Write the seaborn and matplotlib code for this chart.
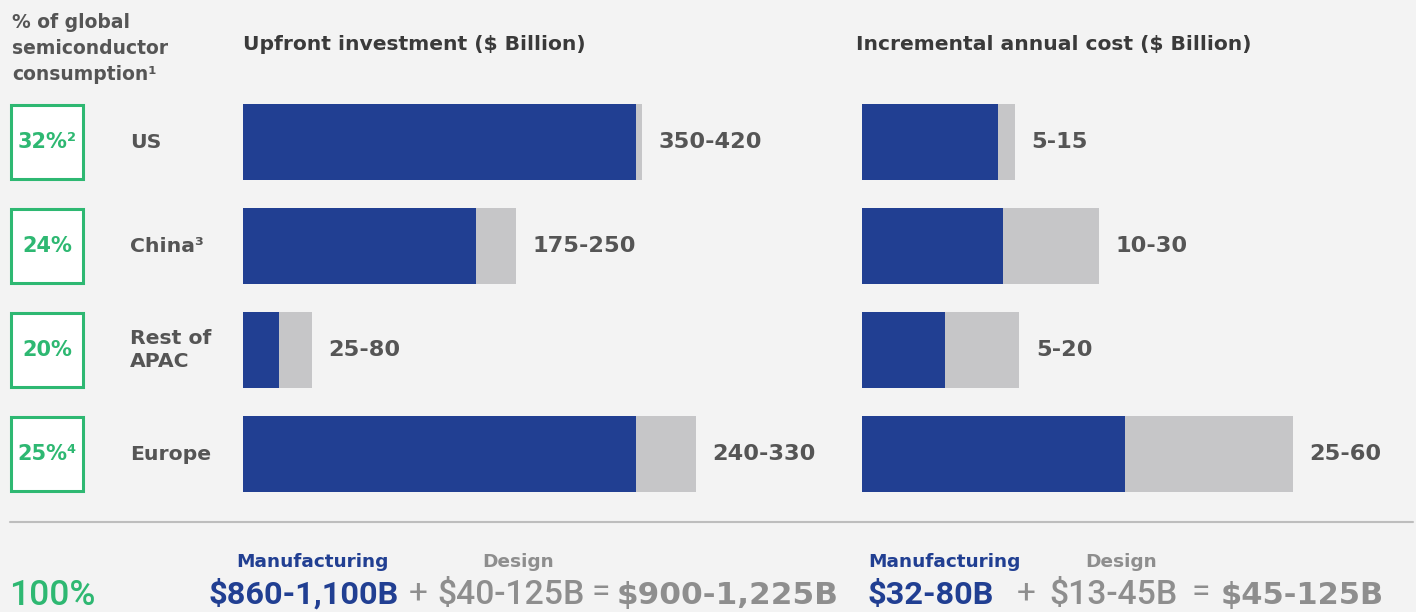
import matplotlib
matplotlib.use("Agg")
import matplotlib.pyplot as plt
from matplotlib.patches import Rectangle
import seaborn as sns

# --- data ---
regions = ["US", "China³", "Rest of\nAPAC", "Europe"]
consumption_share = ["32%²", "24%", "20%", "25%⁴"]

upfront_manufacturing = [350, 207, 32, 350]
upfront_design = [5, 36, 29, 53]
upfront_labels = ["350-420", "175-250", "25-80", "240-330"]

annual_manufacturing = [18.9, 19.6, 11.6, 36.6]
annual_design = [2.4, 13.4, 10.3, 23.4]
annual_labels = ["5-15", "10-30", "5-20", "25-60"]

total_share = "100%"
upfront_totals = ["$860-1,100B", "$40-125B", "$900-1,225B"]
annual_totals = ["$32-80B", "$13-45B", "$45-125B"]

# --- style ---
BG = "#f3f3f3"
BLUE = "#213f92"
LIGHT = "#c6c6c8"
GREEN = "#2eb872"
TXT = "#555555"
DARK = "#3a3a3a"
SUM_GRAY = "#8e8e8e"

W, H = 1416, 612
sns.set_style("white", {"axes.facecolor": BG, "figure.facecolor": BG})
plt.rcParams["font.family"] = ["DejaVu Sans"]

fig = plt.figure(figsize=(W / 100, H / 100), dpi=100)

# rows: bars occupy y 104..492 px, one row every 104 px
bottom = 1 - 506 / H
height = 416 / H


def px_axes(x0, x1):
    ax = fig.add_axes([x0 / W, bottom, (x1 - x0) / W, height])
    ax.set_facecolor("none")
    return ax


def ftext(x, y, s, **kw):
    fig.text(x / W, 1 - y / H, s, va="baseline", **kw)


def stacked(ax, manuf, design, labels, xmax):
    total = [m + d for m, d in zip(manuf, design)]
    sns.barplot(x=total, y=regions, color=LIGHT, width=0.73, saturation=1,
                linewidth=0, ax=ax, orient="h")
    sns.barplot(x=manuf, y=regions, color=BLUE, width=0.73, saturation=1,
                linewidth=0, ax=ax, orient="h")
    for i, (t, lab) in enumerate(zip(total, labels)):
        ax.annotate(lab, xy=(t, i), xytext=(12, 0), textcoords="offset points",
                    va="center", ha="left", fontsize=16.2, fontweight="bold",
                    color=TXT)
    ax.set_xlim(0, xmax)
    ax.set_ylim(len(regions) - 0.5, -0.5)
    ax.axis("off")


# left column: consumption boxes and region names
ax_lab = px_axes(0, 240)
ax_lab.set_xlim(0, 240)
ax_lab.set_ylim(len(regions) - 0.5, -0.5)
ax_lab.axis("off")
for i, (reg, share) in enumerate(zip(regions, consumption_share)):
    ax_lab.add_patch(Rectangle((11, i - 0.355), 72, 0.71, facecolor="white",
                               edgecolor=GREEN, linewidth=2.2))
    ax_lab.text(47, i, share, ha="center", va="center", fontsize=15,
                fontweight="bold", color=GREEN)
    ax_lab.text(130, i, reg, ha="left", va="center", fontsize=14.7,
                fontweight="bold", color=TXT, linespacing=1.25)

# bar panels
ax_up = px_axes(243, 843)
stacked(ax_up, upfront_manufacturing, upfront_design, upfront_labels, 534)

ax_an = px_axes(862, 1416)
stacked(ax_an, annual_manufacturing, annual_design, annual_labels, 77.2)

# headers
for yb, line in zip([28, 54, 80], ["% of global", "semiconductor", "consumption¹"]):
    ftext(12, yb, line, fontsize=13.5, fontweight="bold", color=TXT)
ftext(243, 50, "Upfront investment ($ Billion)", fontsize=14.6, fontweight="bold", color=DARK)
ftext(856, 50, "Incremental annual cost ($ Billion)", fontsize=14.6, fontweight="bold", color=DARK)

# separator
fig.add_artist(plt.Line2D([10 / W, 1413 / W], [1 - 522 / H] * 2, color="#bdbdbd",
                          linewidth=1.5, transform=fig.transFigure))

# totals row
ROB = ["Roboto", "DejaVu Sans"]
ftext(9, 605, total_share, fontsize=25.5, fontweight="medium", color=GREEN, family=ROB)

for x_m, x_lab_m, x_d, x_lab_d, x_plus, x_eq, x_sum, vals, sum_size in [
    (208, 236, 437, 482, 409, 592, 617, upfront_totals, 22.4),
    (868, 868, 1049, 1085, 1017, 1192, 1221, annual_totals, 22),
]:
    ftext(x_lab_m, 567, "Manufacturing", fontsize=13.3, fontweight="bold", color=BLUE)
    ftext(x_lab_d, 567, "Design", fontsize=13.3, fontweight="bold", color=SUM_GRAY)
    ftext(x_m, 604, vals[0], fontsize=23.4, fontweight="bold", color=BLUE, family=ROB)
    ftext(x_plus, 602, "+", fontsize=24, color=SUM_GRAY, family=ROB)
    ftext(x_d, 604, vals[1], fontsize=24.3, fontweight="medium", color=SUM_GRAY, family=ROB)
    ftext(x_eq, 602, "=", fontsize=24, color=SUM_GRAY, family=ROB)
    ftext(x_sum, 604, vals[2], fontsize=sum_size, fontweight="bold", color=SUM_GRAY)

fig.savefig("out.png", dpi=100, facecolor=BG)
